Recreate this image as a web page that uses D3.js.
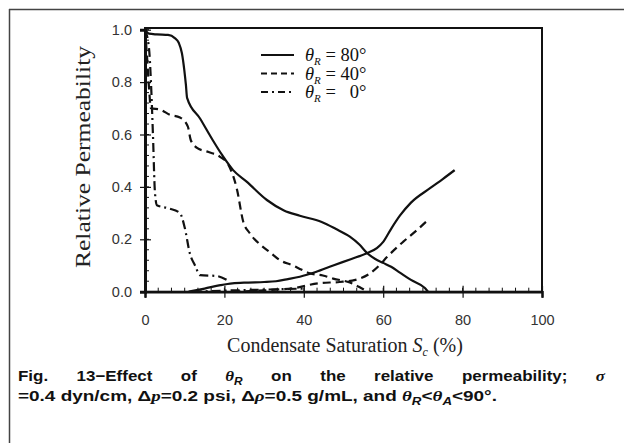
<!DOCTYPE html>
<html>
<head>
<meta charset="utf-8">
<script src="https://cdn.jsdelivr.net/npm/d3@7"></script>
<style>
  html, body { margin: 0; padding: 0; background: #fff; }
  svg { display: block; }
</style>
</head>
<body>
<svg id="chart" width="624" height="443"></svg>
<script>
// ---------------- DATA ----------------
const xTicks = [0, 20, 40, 60, 80, 100];
const yTicks = [0.0, 0.2, 0.4, 0.6, 0.8, 1.0];
const xTickLabels = ["0", "20", "40", "60", "80", "100"];
const yTickLabels = ["0.0", "0.2", "0.4", "0.6", "0.8", "1.0"];

// Gas relative permeability (decreasing) curves
const sat80Gas = [0, 1, 3, 5.8, 7.5, 8.5, 9.3, 9.9, 10.3, 10.6, 13.9, 17, 19.5, 22.2, 25.6, 30.7, 35, 39, 44.5, 48, 51.6, 54, 55.9, 58, 60, 62, 64.2, 67, 70.5, 71.3];
const kr80Gas  = [1.0, 0.985, 0.982, 0.98, 0.968, 0.95, 0.91, 0.846, 0.79, 0.74, 0.66, 0.58, 0.52, 0.464, 0.42, 0.35, 0.31, 0.29, 0.266, 0.24, 0.21, 0.18, 0.148, 0.125, 0.11, 0.095, 0.073, 0.045, 0.014, 0.0];

const sat40Gas = [0, 0.5, 1, 1.5, 3.8, 6.3, 8.8, 10.8, 11.5, 13, 16, 18.9, 21, 23.2, 24.7, 26.4, 29, 31.5, 34, 37.3, 39, 41.6, 44.8, 47.4, 51.6, 54, 56];
const kr40Gas  = [1.0, 0.9, 0.78, 0.70, 0.695, 0.675, 0.665, 0.63, 0.58, 0.55, 0.533, 0.515, 0.485, 0.388, 0.27, 0.223, 0.18, 0.15, 0.12, 0.10, 0.087, 0.07, 0.062, 0.05, 0.035, 0.018, 0.0];

const sat0Gas = [0, 1, 1.5, 2, 2.5, 3, 6, 8.8, 10, 11.3, 12.6, 13.9, 18, 20.6];
const kr0Gas  = [1.0, 0.93, 0.8, 0.6, 0.38, 0.33, 0.318, 0.30, 0.245, 0.146, 0.10, 0.063, 0.06, 0.045];

// Condensate relative permeability (increasing) curves
const sat80Cond = [11, 15, 19, 22, 26, 30, 33, 36, 39, 43, 47.4, 52, 55.9, 58.4, 60, 62, 64.2, 67, 71.8, 75, 78];
const kr80Cond  = [0.0, 0.012, 0.025, 0.032, 0.035, 0.037, 0.04, 0.048, 0.057, 0.075, 0.1, 0.125, 0.147, 0.166, 0.19, 0.24, 0.29, 0.34, 0.395, 0.43, 0.464];

const sat40Cond = [22, 30, 38, 44, 49, 53, 56.7, 59, 61, 65, 68.5, 71.3];
const kr40Cond  = [0.0, 0.005, 0.015, 0.033, 0.037, 0.045, 0.07, 0.10, 0.133, 0.19, 0.235, 0.274];

const sat0Cond = [12, 20, 30, 40];
const kr0Cond  = [0.0, 0.004, 0.008, 0.012];

const legendLabels = ["80°", "40°", "  0°"];

// ---------------- LAYOUT ----------------
const svg = d3.select("#chart");
const X0 = 145, X1 = 542, Y0 = 291.7, Y1 = 29.7;
const x = d3.scaleLinear().domain([0, 100]).range([X0, X1]);
const y = d3.scaleLinear().domain([0, 1]).range([Y0, Y1]);

// outer frame (top + left)
svg.append("line").attr("x1", 9).attr("y1", 9.5).attr("x2", 624).attr("y2", 9.5)
  .attr("stroke", "#444").attr("stroke-width", 1.5);
svg.append("line").attr("x1", 9.5).attr("y1", 9).attr("x2", 9.5).attr("y2", 443)
  .attr("stroke", "#444").attr("stroke-width", 1.5);

// plot box
svg.append("rect").attr("x", X0).attr("y", 28).attr("width", X1 - X0).attr("height", Y0 - 28)
  .attr("fill", "none").attr("stroke", "#111").attr("stroke-width", 2);

// minor ticks
const xMinor = d3.range(0, 100.01, 20 / 6);
const yMinor = d3.range(0, 1.0001, 0.04);
const tickG = svg.append("g").attr("stroke", "#111");
xMinor.forEach(v => {
  tickG.append("line").attr("x1", x(v)).attr("x2", x(v)).attr("y1", Y0).attr("y2", Y0 - 4).attr("stroke-width", 1);
});
yMinor.forEach(v => {
  tickG.append("line").attr("x1", X0).attr("x2", X0 + 4).attr("y1", y(v)).attr("y2", y(v)).attr("stroke-width", 1);
});

// axes via d3
const tickFont = "Liberation Sans, Arial, sans-serif";
const xAxis = d3.axisBottom(x).tickValues(xTicks).tickFormat((d, i) => xTickLabels[i]).tickSize(6).tickPadding(17);
const gx = svg.append("g").attr("transform", `translate(0,${Y0})`).call(xAxis);
gx.select(".domain").attr("stroke", "#111").attr("stroke-width", 2.5);
gx.selectAll(".tick line").attr("stroke", "#111").attr("stroke-width", 1.2).attr("y1", -6);
gx.selectAll(".tick text").attr("font-family", tickFont).attr("font-size", 14.5).attr("fill", "#333");

const yAxis = d3.axisLeft(y).tickValues(yTicks).tickFormat((d, i) => yTickLabels[i]).tickSize(5).tickPadding(8);
const gy = svg.append("g").attr("transform", `translate(${X0},0)`).call(yAxis);
gy.select(".domain").attr("stroke", "#111").attr("stroke-width", 3);
gy.selectAll(".tick line").attr("stroke", "#111").attr("stroke-width", 1.2).attr("x1", 6);
gy.selectAll(".tick text").attr("font-family", tickFont).attr("font-size", 14.5).attr("fill", "#333");

// curves
const line = d3.line().x(d => x(d[0])).y(d => y(d[1])).curve(d3.curveMonotoneX);
const zip = (a, b) => a.map((v, i) => [v, b[i]]);
const styles = { solid: null, dash: "8,5", dashdot: "9,4,2,4" };
const series = [
  [sat80Gas, kr80Gas, "solid"], [sat80Cond, kr80Cond, "solid"],
  [sat40Gas, kr40Gas, "dash"], [sat40Cond, kr40Cond, "dash"],
  [sat0Gas, kr0Gas, "dashdot"], [sat0Cond, kr0Cond, "dashdot"]
];
const plotG = svg.append("g");
series.forEach(([sx, sy, st]) => {
  plotG.append("path").datum(zip(sx, sy)).attr("d", line)
    .attr("fill", "none").attr("stroke", "#111").attr("stroke-width", 2.2)
    .attr("stroke-dasharray", styles[st]).attr("stroke-linejoin", "round");
});

// legend
const legStyles = ["solid", "dash", "dashdot"];
const legDash = { solid: null, dash: "6,4", dashdot: "7,4,2,4" };
legendLabels.forEach((lab, i) => {
  const ly = 55 + i * 18.5;
  svg.append("line").attr("x1", 261).attr("x2", 294).attr("y1", ly).attr("y2", ly)
    .attr("stroke", "#111").attr("stroke-width", 2).attr("stroke-dasharray", legDash[legStyles[i]]);
  const t = svg.append("text").attr("x", 305).attr("y", ly + 6)
    .attr("font-family", "Liberation Serif, Times New Roman, serif").attr("font-size", 18.5).attr("fill", "#111")
    .attr("xml:space", "preserve").style("white-space", "pre");
  t.append("tspan").attr("font-style", "italic").text("θ");
  t.append("tspan").attr("font-style", "italic").attr("font-size", 11).attr("dy", 4).text("R");
  t.append("tspan").attr("dy", -4).text(" = " + lab);
});

// axis titles
svg.append("text").attr("transform", "translate(90,157) rotate(-90)").attr("text-anchor", "middle")
  .attr("font-family", "Liberation Serif, Times New Roman, serif").attr("font-size", 20).attr("fill", "#222")
  .attr("textLength", 222).attr("lengthAdjust", "spacingAndGlyphs")
  .text("Relative Permeability");

const xt = svg.append("text").attr("x", 345).attr("y", 352).attr("text-anchor", "middle")
  .attr("font-family", "Liberation Serif, Times New Roman, serif").attr("font-size", 20).attr("fill", "#222");
xt.append("tspan").text("Condensate Saturation ");
xt.append("tspan").attr("font-style", "italic").text("S");
xt.append("tspan").attr("font-style", "italic").attr("font-size", 12).attr("dy", 4).text("c");
xt.append("tspan").attr("dy", -4).text(" (%)");

// caption line 1 (justified)
const capFont = "Liberation Sans, Arial, sans-serif";
const capSize = 15;
const words1 = [
  [["Fig.", null]], [["13−Effect", null]], [["of", null]],
  [["θ", "i"], ["R", "sub"]], [["on", null]], [["the", null]], [["relative", null]],
  [["permeability;", null]], [["σ", "i"]]
];
function addRich(parent, parts) {
  parts.forEach(([txt, st]) => {
    const ts = parent.append("tspan").text(txt);
    if (st === "i") ts.attr("font-style", "italic").attr("font-family", "Liberation Serif, serif");
    if (st === "sub") ts.attr("font-style", "italic").attr("font-size", 10.5).attr("dy", 4);
    if (st === "unsub") ts.attr("dy", -4);
  });
}
const sx = 1.13;
const cap1 = svg.append("g");
const wEls = words1.map(parts => {
  const t = cap1.append("text").attr("y", 381).attr("font-family", capFont)
    .attr("font-size", capSize).attr("font-weight", "bold").attr("fill", "#111");
  addRich(t, parts);
  return t;
});
const widths = wEls.map(t => t.node().getComputedTextLength() * sx);
const startX = 18, endX = 605;
const gap = (endX - startX - d3.sum(widths)) / (wEls.length - 1);
let cx = startX;
wEls.forEach((t, i) => {
  t.attr("x", 0).attr("y", 0).attr("transform", `translate(${cx},381) scale(${sx},1)`);
  cx += widths[i] + gap;
});

// caption line 2
const cap2 = svg.append("text").attr("x", 18).attr("y", 401).attr("font-family", capFont)
  .attr("font-size", capSize).attr("font-weight", "bold").attr("fill", "#111")
  .attr("textLength", 479).attr("lengthAdjust", "spacingAndGlyphs");
addRich(cap2, [
  ["=0.4 dyn/cm, Δ", null], ["p", "i"], ["=0.2 psi, Δ", null], ["ρ", "i"],
  ["=0.5 g/mL, and ", null], ["θ", "i"], ["R", "sub"], ["<", "unsub"], ["θ", "i"], ["A", "sub"],
  ["<90°.", "unsub"]
]);
</script>
</body>
</html>
